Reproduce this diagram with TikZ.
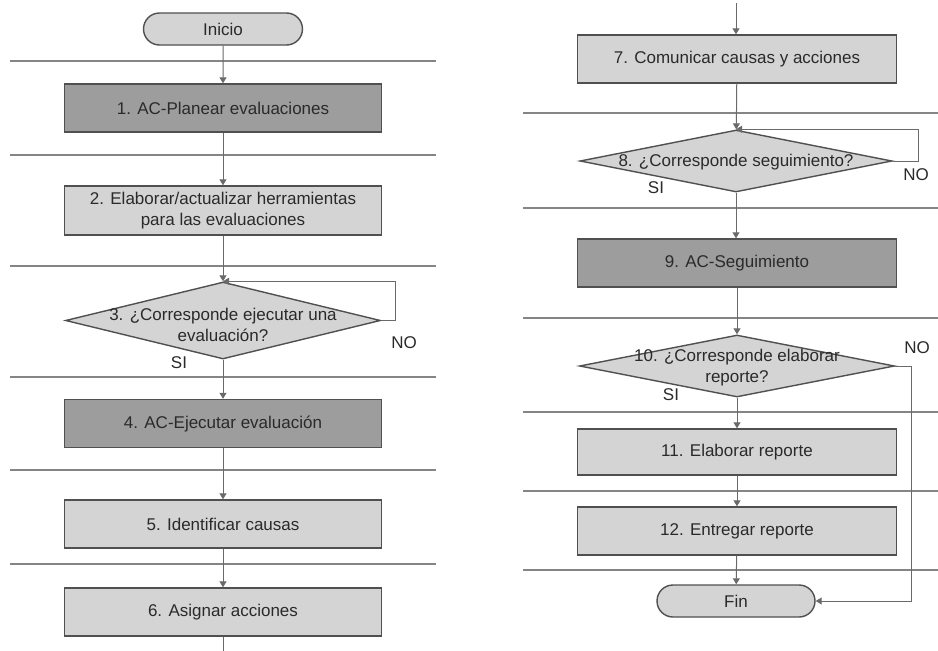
\documentclass[tikz,border=0pt]{standalone}
\usepackage{fontspec}
\setmainfont{Liberation Sans}
\usetikzlibrary{arrows.meta,shapes.geometric,shapes.misc}
\definecolor{boxdark}{HTML}{9D9D9D}
\definecolor{boxlight}{HTML}{D4D4D4}
\definecolor{edgecol}{HTML}{505050}
\definecolor{wirecol}{HTML}{6A6A6A}
\definecolor{sepcol}{HTML}{858585}
\definecolor{txtcol}{HTML}{2A2A2A}
\begin{document}
\begin{tikzpicture}[x=1pt,y=-1pt,
  every node/.style={font=\fontsize{17}{21}\selectfont, text=txtcol},
  proc/.style={draw=edgecol, line width=1.4pt, rectangle, inner sep=0pt, minimum width=317pt, minimum height=48pt, fill=boxlight, align=center},
  procdark/.style={proc, fill=boxdark},
  term/.style={draw=edgecol, line width=1.4pt, rounded rectangle, inner sep=0pt, minimum width=159pt, minimum height=32pt, fill=boxlight},
  dia/.style={draw=edgecol, line width=1.4pt, diamond, inner sep=0pt, fill=boxlight},
  lbl/.style={align=center, inner sep=0pt},
  wireln/.style={draw=wirecol, line width=1pt},
  arr/.style={wireln, -{Triangle[width=7pt,length=6pt]}},
  sepln/.style={draw=sepcol, line width=2.4pt}]
\fill[white] (0,0) rectangle (938,651);
\useasboundingbox (0,0) rectangle (938,651);

% separators
\foreach \yy in {61,155,266,377,470,564} \draw[sepln] (10,\yy) -- (436,\yy);
\foreach \yy in {113,208,318,412,491,570} \draw[sepln] (523,\yy) -- (938,\yy);

% left column
\node[term] (ini) at (223,29) {Inicio};
\node[procdark] (b1) at (223,108) {1. AC-Planear evaluaciones};
\node[proc, minimum height=49pt] (b2) at (223,210.5) {2. Elaborar/actualizar herramientas\\para las evaluaciones};
\node[dia, minimum width=315pt, minimum height=77pt] (d3) at (223,320.5) {};
\node[lbl] (t3) at (223,325) {3. ¿Corresponde ejecutar una\\evaluación?};
\node[procdark] (b4) at (223,423.5) {4. AC-Ejecutar evaluación};
\node[proc] (b5) at (223,524) {5. Identificar causas};
\node[proc] (b6) at (223,612) {6. Asignar acciones};
\coordinate (lbot) at (223,651);
\coordinate (c3) at (395,320.5);
\node[lbl] (no3) at (404,343) {NO};
\node[lbl] (si3) at (179,363) {SI};

% right column
\coordinate (rtop) at (736,3);
\node[proc, minimum width=319pt] (b7) at (737,59) {7. Comunicar causas y acciones};
\node[dia, minimum width=312pt, minimum height=62pt] (d8) at (736,161) {};
\node[lbl] (t8) at (736,162) {8. ¿Corresponde seguimiento?};
\node[procdark, minimum width=319pt] (b9) at (737,263) {9. AC-Seguimiento};
\node[dia, minimum width=315pt, minimum height=62pt] (d10) at (737,366) {};
\node[lbl] (t10) at (737,367.5) {10. ¿Corresponde elaborar\\reporte?};
\node[proc, minimum width=319pt, minimum height=46pt] (b11) at (737,452) {11. Elaborar reporte};
\node[proc, minimum width=319pt] (b12) at (737,531) {12. Entregar reporte};
\node[term, minimum width=158pt] (fin) at (736,601) {Fin};
\coordinate (c8) at (918,161);
\coordinate (c10) at (911,366);
\node[lbl] (no8) at (916,175) {NO};
\node[lbl] (si8) at (656,188) {SI};
\node[lbl] (no10) at (917,348) {NO};
\node[lbl] (si10) at (671,395) {SI};

% connectors left
\draw[arr] (ini) -- (b1);
\draw[arr] (b1) -- (b2);
\draw[arr] (b2) -- (d3);
\draw[arr] (d3) -- (b4);
\draw[arr] (b4) -- (b5);
\draw[arr] (b5) -- (b6);
\draw[wireln] (b6) -- (lbot);
\draw[arr] (d3.east) -- (c3) |- (d3.north);

% connectors right
\draw[arr] (rtop) -- (rtop |- b7.north);
\draw[arr] (b7) -- (d8);
\draw[arr] (d8) -- (d8 |- b9.north);
\draw[arr] (b9) -- (d10);
\draw[arr] (d10) -- (b11);
\draw[arr] (b11) -- (b12);
\draw[arr] (b12) -- (fin);
\draw[arr] (d8.east) -- (c8) |- (d8.north);
\draw[arr] (d10.east) -- (c10) |- (fin.east);
\end{tikzpicture}
\end{document}
